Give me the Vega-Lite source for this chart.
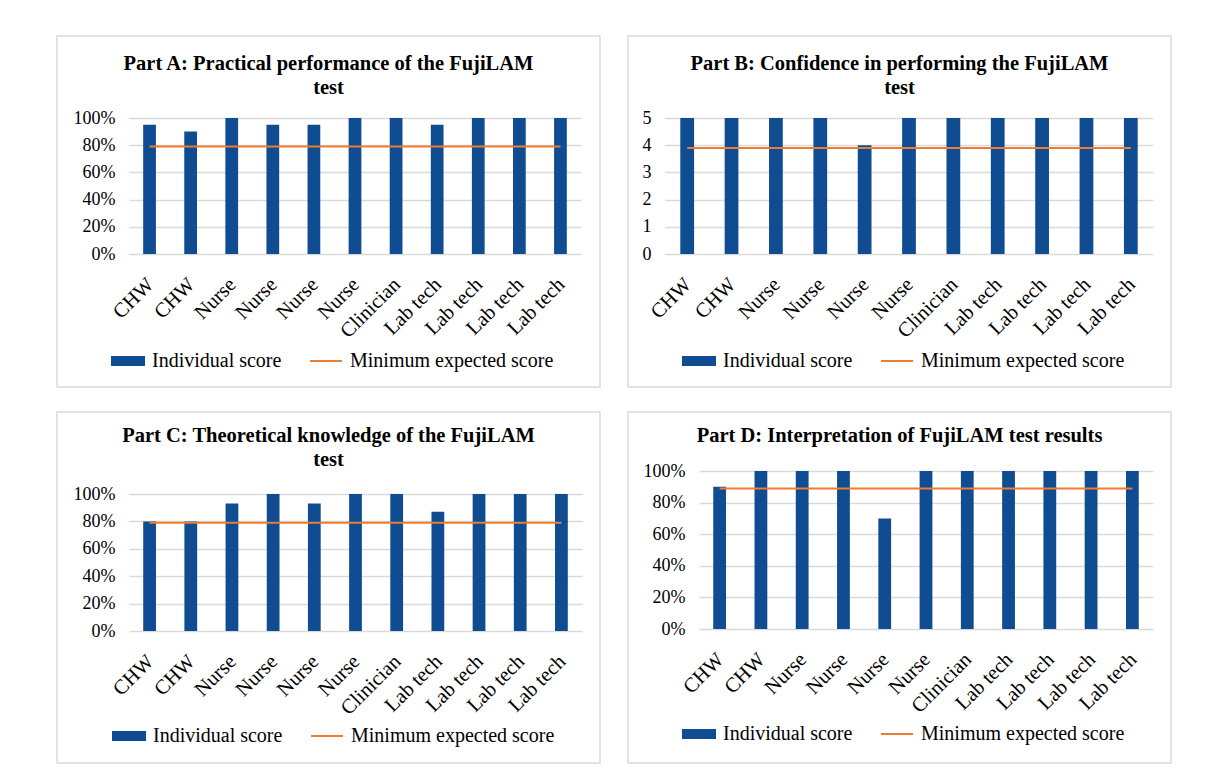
{
  "$schema": "https://vega.github.io/schema/vega-lite/v6.json",
  "background": "white",
  "padding": {"left": 56, "top": 35, "right": 0, "bottom": 0},
  "spacing": 23,
  "resolve": {"scale": {"color": "independent"}, "legend": {"color": "independent"}},
  "datasets": {
    "partA": [
      {"participant": "CHW#1", "score": 0.95, "minimum": 0.79},
      {"participant": "CHW#2", "score": 0.90, "minimum": 0.79},
      {"participant": "Nurse#3", "score": 1.00, "minimum": 0.79},
      {"participant": "Nurse#4", "score": 0.95, "minimum": 0.79},
      {"participant": "Nurse#5", "score": 0.95, "minimum": 0.79},
      {"participant": "Nurse#6", "score": 1.00, "minimum": 0.79},
      {"participant": "Clinician#7", "score": 1.00, "minimum": 0.79},
      {"participant": "Lab tech#8", "score": 0.95, "minimum": 0.79},
      {"participant": "Lab tech#9", "score": 1.00, "minimum": 0.79},
      {"participant": "Lab tech#10", "score": 1.00, "minimum": 0.79},
      {"participant": "Lab tech#11", "score": 1.00, "minimum": 0.79}
    ],
    "partB": [
      {"participant": "CHW#1", "score": 5, "minimum": 3.9},
      {"participant": "CHW#2", "score": 5, "minimum": 3.9},
      {"participant": "Nurse#3", "score": 5, "minimum": 3.9},
      {"participant": "Nurse#4", "score": 5, "minimum": 3.9},
      {"participant": "Nurse#5", "score": 4, "minimum": 3.9},
      {"participant": "Nurse#6", "score": 5, "minimum": 3.9},
      {"participant": "Clinician#7", "score": 5, "minimum": 3.9},
      {"participant": "Lab tech#8", "score": 5, "minimum": 3.9},
      {"participant": "Lab tech#9", "score": 5, "minimum": 3.9},
      {"participant": "Lab tech#10", "score": 5, "minimum": 3.9},
      {"participant": "Lab tech#11", "score": 5, "minimum": 3.9}
    ],
    "partC": [
      {"participant": "CHW#1", "score": 0.80, "minimum": 0.79},
      {"participant": "CHW#2", "score": 0.80, "minimum": 0.79},
      {"participant": "Nurse#3", "score": 0.93, "minimum": 0.79},
      {"participant": "Nurse#4", "score": 1.00, "minimum": 0.79},
      {"participant": "Nurse#5", "score": 0.93, "minimum": 0.79},
      {"participant": "Nurse#6", "score": 1.00, "minimum": 0.79},
      {"participant": "Clinician#7", "score": 1.00, "minimum": 0.79},
      {"participant": "Lab tech#8", "score": 0.87, "minimum": 0.79},
      {"participant": "Lab tech#9", "score": 1.00, "minimum": 0.79},
      {"participant": "Lab tech#10", "score": 1.00, "minimum": 0.79},
      {"participant": "Lab tech#11", "score": 1.00, "minimum": 0.79}
    ],
    "partD": [
      {"participant": "CHW#1", "score": 0.90, "minimum": 0.89},
      {"participant": "CHW#2", "score": 1.00, "minimum": 0.89},
      {"participant": "Nurse#3", "score": 1.00, "minimum": 0.89},
      {"participant": "Nurse#4", "score": 1.00, "minimum": 0.89},
      {"participant": "Nurse#5", "score": 0.70, "minimum": 0.89},
      {"participant": "Nurse#6", "score": 1.00, "minimum": 0.89},
      {"participant": "Clinician#7", "score": 1.00, "minimum": 0.89},
      {"participant": "Lab tech#8", "score": 1.00, "minimum": 0.89},
      {"participant": "Lab tech#9", "score": 1.00, "minimum": 0.89},
      {"participant": "Lab tech#10", "score": 1.00, "minimum": 0.89},
      {"participant": "Lab tech#11", "score": 1.00, "minimum": 0.89}
    ]
  },
  "vconcat": [
    {
      "spacing": 26,
      "resolve": {"scale": {"color": "independent"}, "legend": {"color": "independent"}},
      "hconcat": [
        {
          "width": 543, "height": 351,
          "title": {"text": ["Part A: Practical performance of the FujiLAM", "test"], "offset": -62},
          "data": {"name": "partA"},
          "encoding": {
            "x": {"field": "participant", "type": "nominal", "sort": null,
                  "scale": {"range": [72, 524], "paddingInner": 0, "paddingOuter": 0},
                  "axis": {"title": null, "offset": -133, "labelExpr": "split(datum.value, '#')[0]"}}
          },
          "layer": [
            {"mark": {"type": "bar", "width": {"band": 0.31}},
             "encoding": {
               "y": {"field": "score", "type": "quantitative", "scale": {"domain": [0, 1], "range": [218, 82]},
                     "axis": {"title": null, "offset": -72, "values": [0, 0.2, 0.4, 0.6, 0.8, 1], "format": ".0%"}},
               "color": {"datum": "Individual score",
                         "scale": {"domain": ["Individual score", "Minimum expected score"], "range": ["#0F4C92", "#ED7D31"]},
                         "legend": {"legendX": 54, "legendY": 308,
                           "encode": {"symbols": {"update": {
                             "shape": {"signal": "datum.value === 'Individual score' ? 'M-1,-0.25H1V0.25H-1Z' : 'M-1,0H1'"},
                             "fill": {"signal": "datum.value === 'Individual score' ? '#0F4C92' : 'transparent'"},
                             "stroke": {"signal": "datum.value === 'Individual score' ? 'transparent' : '#ED7D31'"},
                             "strokeWidth": {"value": 2}, "opacity": {"value": 1}}}}}}
             }},
            {"mark": {"type": "line", "strokeWidth": 2},
             "encoding": {"y": {"field": "minimum", "type": "quantitative"}, "color": {"datum": "Minimum expected score"}}}
          ]
        },
        {
          "width": 543, "height": 351,
          "title": {"text": ["Part B: Confidence in performing the FujiLAM", "test"], "offset": -62},
          "data": {"name": "partB"},
          "encoding": {
            "x": {"field": "participant", "type": "nominal", "sort": null,
                  "scale": {"range": [37, 525], "paddingInner": 0, "paddingOuter": 0},
                  "axis": {"title": null, "offset": -133, "labelExpr": "split(datum.value, '#')[0]"}}
          },
          "layer": [
            {"mark": {"type": "bar", "width": {"band": 0.31}},
             "encoding": {
               "y": {"field": "score", "type": "quantitative", "scale": {"domain": [0, 5], "range": [218, 82]},
                     "axis": {"title": null, "offset": -37, "values": [0, 1, 2, 3, 4, 5], "format": "d"}},
               "color": {"datum": "Individual score",
                         "scale": {"domain": ["Individual score", "Minimum expected score"], "range": ["#0F4C92", "#ED7D31"]},
                         "legend": {"legendX": 54, "legendY": 308,
                           "encode": {"symbols": {"update": {
                             "shape": {"signal": "datum.value === 'Individual score' ? 'M-1,-0.25H1V0.25H-1Z' : 'M-1,0H1'"},
                             "fill": {"signal": "datum.value === 'Individual score' ? '#0F4C92' : 'transparent'"},
                             "stroke": {"signal": "datum.value === 'Individual score' ? 'transparent' : '#ED7D31'"},
                             "strokeWidth": {"value": 2}, "opacity": {"value": 1}}}}}}
             }},
            {"mark": {"type": "line", "strokeWidth": 2},
             "encoding": {"y": {"field": "minimum", "type": "quantitative"}, "color": {"datum": "Minimum expected score"}}}
          ]
        }
      ]
    },
    {
      "spacing": 26,
      "resolve": {"scale": {"color": "independent"}, "legend": {"color": "independent"}},
      "hconcat": [
        {
          "width": 543, "height": 351,
          "title": {"text": ["Part C: Theoretical knowledge of the FujiLAM", "test"], "offset": -58},
          "data": {"name": "partC"},
          "encoding": {
            "x": {"field": "participant", "type": "nominal", "sort": null,
                  "scale": {"range": [72, 525], "paddingInner": 0, "paddingOuter": 0},
                  "axis": {"title": null, "offset": -132, "labelExpr": "split(datum.value, '#')[0]"}}
          },
          "layer": [
            {"mark": {"type": "bar", "width": {"band": 0.31}},
             "encoding": {
               "y": {"field": "score", "type": "quantitative", "scale": {"domain": [0, 1], "range": [219, 82]},
                     "axis": {"title": null, "offset": -72, "values": [0, 0.2, 0.4, 0.6, 0.8, 1], "format": ".0%"}},
               "color": {"datum": "Individual score",
                         "scale": {"domain": ["Individual score", "Minimum expected score"], "range": ["#0F4C92", "#ED7D31"]},
                         "legend": {"legendX": 55, "legendY": 307,
                           "encode": {"symbols": {"update": {
                             "shape": {"signal": "datum.value === 'Individual score' ? 'M-1,-0.25H1V0.25H-1Z' : 'M-1,0H1'"},
                             "fill": {"signal": "datum.value === 'Individual score' ? '#0F4C92' : 'transparent'"},
                             "stroke": {"signal": "datum.value === 'Individual score' ? 'transparent' : '#ED7D31'"},
                             "strokeWidth": {"value": 2}, "opacity": {"value": 1}}}}}}
             }},
            {"mark": {"type": "line", "strokeWidth": 2},
             "encoding": {"y": {"field": "minimum", "type": "quantitative"}, "color": {"datum": "Minimum expected score"}}}
          ]
        },
        {
          "width": 543, "height": 351,
          "title": {"text": "Part D: Interpretation of FujiLAM test results", "offset": -34},
          "data": {"name": "partD"},
          "encoding": {
            "x": {"field": "participant", "type": "nominal", "sort": null,
                  "scale": {"range": [71, 525], "paddingInner": 0, "paddingOuter": 0},
                  "axis": {"title": null, "offset": -134, "labelExpr": "split(datum.value, '#')[0]"}}
          },
          "layer": [
            {"mark": {"type": "bar", "width": {"band": 0.31}},
             "encoding": {
               "y": {"field": "score", "type": "quantitative", "scale": {"domain": [0, 1], "range": [217, 59]},
                     "axis": {"title": null, "offset": -71, "values": [0, 0.2, 0.4, 0.6, 0.8, 1], "format": ".0%"}},
               "color": {"datum": "Individual score",
                         "scale": {"domain": ["Individual score", "Minimum expected score"], "range": ["#0F4C92", "#ED7D31"]},
                         "legend": {"legendX": 54, "legendY": 305,
                           "encode": {"symbols": {"update": {
                             "shape": {"signal": "datum.value === 'Individual score' ? 'M-1,-0.25H1V0.25H-1Z' : 'M-1,0H1'"},
                             "fill": {"signal": "datum.value === 'Individual score' ? '#0F4C92' : 'transparent'"},
                             "stroke": {"signal": "datum.value === 'Individual score' ? 'transparent' : '#ED7D31'"},
                             "strokeWidth": {"value": 2}, "opacity": {"value": 1}}}}}}
             }},
            {"mark": {"type": "line", "strokeWidth": 2},
             "encoding": {"y": {"field": "minimum", "type": "quantitative"}, "color": {"datum": "Minimum expected score"}}}
          ]
        }
      ]
    }
  ],
  "config": {
    "view": {"stroke": "#d9d9d9", "strokeWidth": 1.5},
    "font": "Liberation Serif",
    "title": {"font": "Liberation Serif", "fontSize": 20.5, "fontWeight": "bold", "color": "#000000", "lineHeight": 24, "anchor": "middle", "frame": "group", "baseline": "top"},
    "axis": {"labelFont": "Liberation Serif", "labelFontSize": 18, "labelColor": "#000000", "domain": false, "ticks": false, "tickSize": 0, "gridColor": "#d9d9d9", "gridWidth": 1.5},
    "axisX": {"grid": false, "labelAngle": -45, "labelPadding": 20, "labelOffset": -6, "labelFontSize": 20.5},
    "axisY": {"grid": true, "labelPadding": 14},
    "legend": {"orient": "none", "direction": "horizontal", "title": null, "symbolSize": 1024, "labelOffset": 7, "columnPadding": 24, "labelLimit": 0, "labelFont": "Liberation Serif", "labelFontSize": 20, "labelColor": "#000000"}
  }
}
